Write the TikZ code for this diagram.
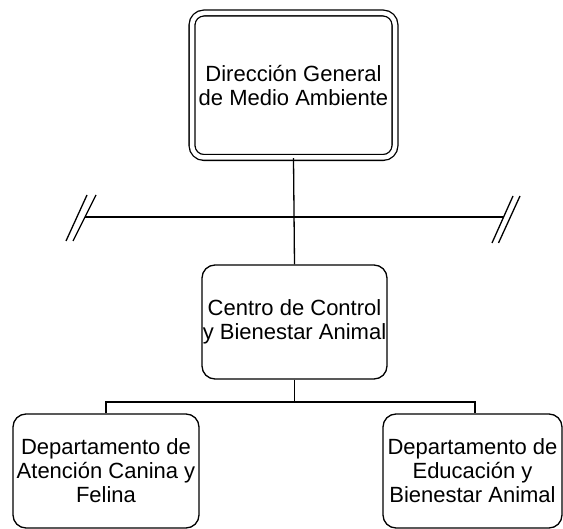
\documentclass[tikz,border=0pt]{standalone}
\usepackage{fontspec}
\setmainfont{Liberation Sans}
\begin{document}
\begin{tikzpicture}[x=1pt,y=-1pt,
  box/.style={draw, line width=1.3pt, rounded corners=13pt, align=center,
    inner sep=0pt, font=\fontsize{22}{24}\selectfont},
  topbox/.style={box, double, double distance=4.5pt, rounded corners=12pt},
  conn/.style={line width=1.3pt}]
\useasboundingbox (0,0) rectangle (563,529);
\node[topbox, minimum width=203pt, minimum height=144.5pt] (dg) at (293.5,85.25)
  {Dirección General\\de Medio Ambiente};
\node[box, minimum width=185pt, minimum height=114pt] (cc) at (294.5,322)
  {Centro de Control\\y Bienestar Animal};
\node[box, minimum width=186pt, minimum height=114pt] (dl) at (106,471)
  {Departamento de\\Atención Canina y\\Felina};
\node[box, minimum width=179pt, minimum height=114pt] (dr) at (472.5,471)
  {Departamento de\\Educación y\\Bienestar Animal};
% horizontal line with break marks
\coordinate (hl) at (85,217);
\coordinate (hr) at (503.5,217);
\coordinate (s1a) at (66,241); \coordinate (s1b) at (87,195);
\coordinate (s2a) at (73,241); \coordinate (s2b) at (96,195);
\coordinate (s3a) at (492,243); \coordinate (s3b) at (513,196);
\coordinate (s4a) at (498.5,243); \coordinate (s4b) at (520,196);
\draw[conn] (dg.south) -- (cc.north);
\draw[conn] (hl) -- (hr);
\draw[conn] (s1a) -- (s1b);
\draw[conn] (s2a) -- (s2b);
\draw[conn] (s3a) -- (s3b);
\draw[conn] (s4a) -- (s4b);
% lower bus
\coordinate (bus) at (294.5,402);
\draw[conn] (cc.south) -- (bus);
\draw[conn] (dl.north) |- (bus) -| ([xshift=2.5pt]dr.north);
\end{tikzpicture}
\end{document}
